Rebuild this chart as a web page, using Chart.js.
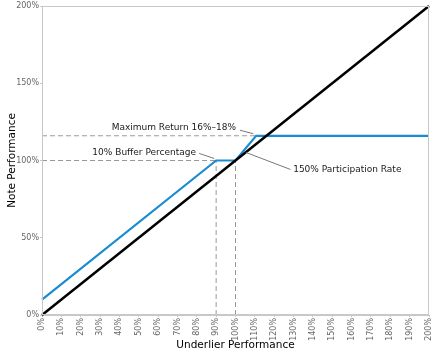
<!DOCTYPE html>
<html>
<head>
<meta charset="utf-8">
<script src="https://cdn.jsdelivr.net/npm/chart.js@4/dist/chart.umd.min.js"></script>
<style>
html,body{margin:0;padding:0;background:#fff;}
#wrap{width:433px;height:355px;}
</style>
</head>
<body>
<div id="wrap"><canvas id="c" width="433" height="355"></canvas></div>
<script>
// ---- data ----
const underlierPerf = [0, 90, 100, 110.67, 200];
const notePerf      = [10, 100, 100, 116, 116];
const refUnderlier  = [0, 200];
const refNote       = [0, 200];
const bufferLevel   = 100;   // note performance at buffer
const bufferStrike  = 90;    // underlier at buffer
const capLevel      = 116;   // max return level
const capStrike     = 110.67;
const xTickValues = [0,10,20,30,40,50,60,70,80,90,100,110,120,130,140,150,160,170,180,190,200];
const yTickValues = [0,50,100,150,200];
const annotationTexts = ["Maximum Return 16%\u201318%", "10% Buffer Percentage", "150% Participation Rate"];

const pts = (xs, ys) => xs.map((x, i) => ({x: x, y: ys[i]}));

const dashStyle = {borderColor:'#999', borderWidth:1, borderDash:[5,3], pointRadius:0, showLine:true, fill:false};

const annotations = [
  {text: annotationTexts[0], tx: 100.3, ty: 121.3, align:'right', line:[[102.3,119.6],[109.2,117.3]]},
  {text: annotationTexts[1], tx: 79.6, ty: 105.2, align:'right', line:[[81.2,104.6],[89.0,101.3]]},
  {text: annotationTexts[2], tx: 129.8, ty: 94.2, align:'left', line:[[128.4,94.2],[105.4,105.2]]}
];

const decorPlugin = {
  id: 'decor',
  afterDatasetsDraw(chart) {
    const {ctx, chartArea: a, scales: {x, y}} = chart;
    ctx.save();
    ctx.strokeStyle = '#c8c8c8';
    ctx.lineWidth = 1;
    ctx.strokeRect(a.left + 0.5, a.top + 0.5, a.right - a.left - 1, a.bottom - a.top - 1);
    ctx.font = '9px "DejaVu Sans"';
    ctx.fillStyle = '#1a1a1a';
    ctx.textBaseline = 'middle';
    annotations.forEach(an => {
      ctx.textAlign = an.align;
      ctx.fillText(an.text, x.getPixelForValue(an.tx), y.getPixelForValue(an.ty));
      ctx.beginPath();
      ctx.strokeStyle = '#777';
      ctx.lineWidth = 1;
      ctx.moveTo(x.getPixelForValue(an.line[0][0]), y.getPixelForValue(an.line[0][1]));
      ctx.lineTo(x.getPixelForValue(an.line[1][0]), y.getPixelForValue(an.line[1][1]));
      ctx.stroke();
    });
    ctx.restore();
  }
};

new Chart(document.getElementById('c'), {
  type: 'scatter',
  data: {
    datasets: [
      {data: pts(refUnderlier, refNote), borderColor:'#000', borderWidth:2.5, pointRadius:0, showLine:true, clip:3},
      {data: pts(underlierPerf, notePerf), borderColor:'#1a8bd0', borderWidth:2.2, pointRadius:0, showLine:true, clip:3},
      Object.assign({data: pts([0, bufferStrike], [bufferLevel, bufferLevel])}, dashStyle),
      Object.assign({data: pts([0, capStrike], [capLevel, capLevel])}, dashStyle),
      Object.assign({data: pts([bufferStrike, bufferStrike], [0, bufferLevel])}, dashStyle),
      Object.assign({data: pts([100, 100], [0, bufferLevel])}, dashStyle)
    ]
  },
  options: {
    responsive: false,
    animation: false,
    events: [],
    layout: {padding: {top: 6, right: 4, left: 0, bottom: 0}},
    plugins: {legend: {display: false}, tooltip: {enabled: false}},
    scales: {
      x: {
        type: 'linear', min: 0, max: 200,
        afterBuildTicks: s => { s.ticks = xTickValues.map(v => ({value: v})); },
        afterFit: s => { s.height = 40; s.paddingRight = 0; s.paddingLeft = 0; },
        grid: {drawOnChartArea: false, tickLength: 2, color: '#c8c8c8'},
        border: {color: '#c8c8c8'},
        ticks: {minRotation: 90, maxRotation: 90, autoSkip: false, padding: 1,
          font: {family: 'DejaVu Sans', size: 8}, color: '#666', callback: v => v + '%'},
        title: {display: true, text: 'Underlier Performance', color: '#000',
          font: {family: 'DejaVu Sans', size: 10.5}, padding: {top: 0, bottom: 3}}
      },
      y: {
        type: 'linear', min: 0, max: 200,
        afterBuildTicks: s => { s.ticks = yTickValues.map(v => ({value: v})); },
        afterFit: s => { s.width = 42; s.paddingTop = 0; s.paddingBottom = 0; },
        grid: {drawOnChartArea: false, tickLength: 2, color: '#c8c8c8'},
        border: {color: '#c8c8c8'},
        ticks: {padding: 1, font: {family: 'DejaVu Sans', size: 8}, color: '#666', callback: v => v + '%'},
        title: {display: true, text: 'Note Performance', color: '#000',
          font: {family: 'DejaVu Sans', size: 10.5}, padding: {top: 6, bottom: 0}}
      }
    }
  },
  plugins: [decorPlugin]
});
</script>
</body>
</html>
